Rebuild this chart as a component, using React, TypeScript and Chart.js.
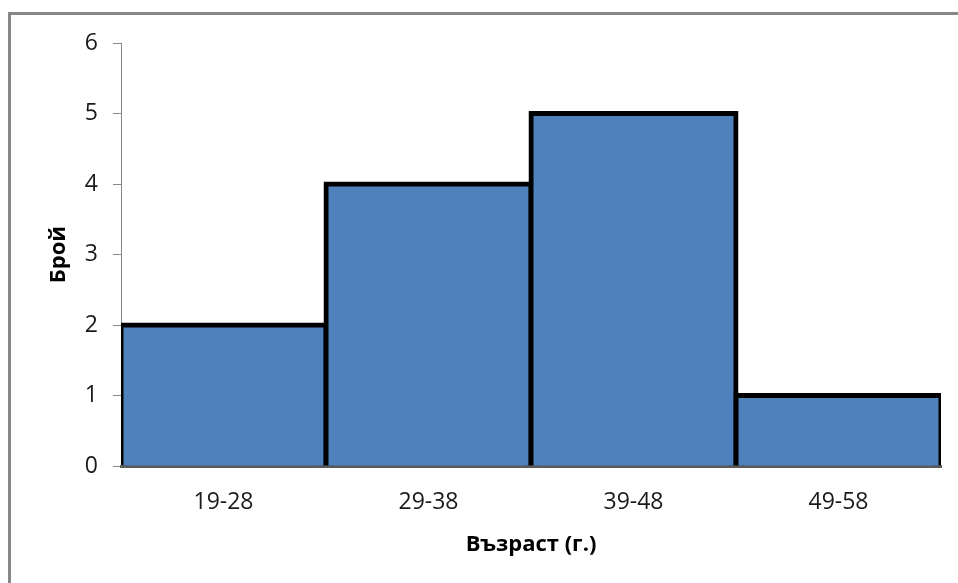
import React, { useEffect, useRef } from "react";
import { Chart, registerables } from "chart.js";

Chart.register(...registerables);

// Age groups and number of people in each
const ageGroups = ["19-28", "29-38", "39-48", "49-58"];
const counts = [2, 4, 5, 1];
const yMin = 0;
const yMax = 6;
const yStep = 1;
const xTitle = "Възраст (г.)";
const yTitle = "Брой";

const FONT = "'Open Sans', 'DejaVu Sans', sans-serif";

// White background and the grey outer frame
const framePlugin = {
  id: "frame",
  beforeDraw(chart: Chart) {
    const ctx = chart.ctx;
    ctx.save();
    ctx.fillStyle = "#ffffff";
    ctx.fillRect(0, 0, chart.width, chart.height);
    ctx.strokeStyle = "#878787";
    ctx.lineWidth = 3;
    ctx.strokeRect(9.5, 13.5, 970, 620);
    ctx.restore();
  },
};

export default function App() {
  const canvasRef = useRef<HTMLCanvasElement | null>(null);

  useEffect(() => {
    document.body.style.margin = "0";
    const canvas = canvasRef.current;
    if (!canvas) return;

    const chart = new Chart(canvas, {
      type: "bar",
      data: {
        labels: ageGroups,
        datasets: [
          {
            data: counts,
            backgroundColor: "#4f81bd",
            borderColor: "#000000",
            borderWidth: 5,
            inflateAmount: 2.5,
            borderSkipped: "start",
            barPercentage: 1,
            categoryPercentage: 1,
          },
        ],
      },
      options: {
        responsive: false,
        animation: false,
        devicePixelRatio: 1,
        layout: { padding: { left: 0, top: 43, right: 17, bottom: 0 } },
        plugins: {
          legend: { display: false },
          tooltip: { enabled: false },
        },
        scales: {
          x: {
            z: 1,
            grid: { display: false, drawTicks: false },
            border: { display: true, color: "#5a5a5a", width: 3 },
            ticks: {
              color: "#1a1a1a",
              padding: 23,
              font: { family: FONT, size: 23 },
            },
            title: {
              display: true,
              text: xTitle,
              color: "#000000",
              font: { family: FONT, size: 22, weight: "bold" },
              padding: { top: 0, bottom: 25 },
            },
            afterFit(scale: any) {
              scale.height = 117;
            },
          },
          y: {
            min: yMin,
            max: yMax,
            grid: {
              drawOnChartArea: false,
              drawTicks: true,
              tickLength: 8,
              color: "#878787",
            },
            border: { display: true, color: "#878787", width: 1 },
            ticks: {
              stepSize: yStep,
              color: "#1a1a1a",
              padding: 15,
              font: { family: FONT, size: 23 },
            },
            title: {
              display: true,
              text: yTitle,
              color: "#000000",
              font: { family: FONT, size: 22, weight: "bold" },
              padding: { top: 46, bottom: 0 },
            },
            afterFit(scale: any) {
              scale.width = 121;
            },
          },
        },
      },
      plugins: [framePlugin],
    });

    return () => chart.destroy();
  }, []);

  return (
    <div style={{ width: 958, height: 583 }}>
      <canvas ref={canvasRef} width={958} height={583} />
    </div>
  );
}
